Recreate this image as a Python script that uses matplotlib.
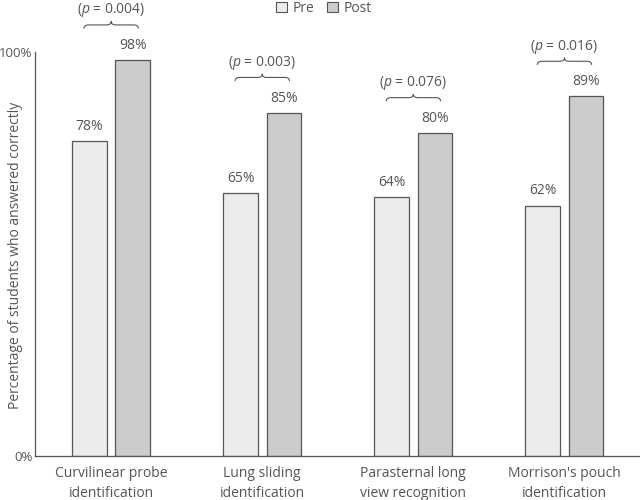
import matplotlib.pyplot as plt
from matplotlib.path import Path
from matplotlib.patches import PathPatch, Patch
import numpy as np

plt.rcParams['font.family'] = ['Open Sans', 'DejaVu Sans']
plt.rcParams['mathtext.fontset'] = 'custom'
plt.rcParams['mathtext.it'] = 'Open Sans:italic'
plt.rcParams['mathtext.rm'] = 'Open Sans'

categories = ["Curvilinear probe\nidentification", "Lung sliding\nidentification",
              "Parasternal long\nview recognition", "Morrison's pouch\nidentification"]
pre = [78, 65, 64, 62]
post = [98, 85, 80, 89]
p_values = ["0.004", "0.003", "0.076", "0.016"]

txt = '#555555'
edge = '#555555'

fig = plt.figure(figsize=(6.4, 5.0), dpi=100)
ax = fig.add_axes([0.055, 0.088, 0.945, 0.808])

x = np.arange(len(categories))
w = 0.23
off = 0.143
ax.bar(x - off, pre, w, color='#ececec', edgecolor=edge, linewidth=0.9)
ax.bar(x + off, post, w, color='#cccccc', edgecolor=edge, linewidth=0.9)

for i in range(len(categories)):
    ax.text(x[i] - off, pre[i] + 3.6, f"{pre[i]}%", ha='center', va='center',
            fontsize=10, color=txt)
    ax.text(x[i] + off, post[i] + 3.6, f"{post[i]}%", ha='center', va='center',
            fontsize=10, color=txt)

    # curly brace above the pair
    yb = post[i] + 8.7
    x0, x1 = x[i] - 0.18, x[i] + 0.18
    xm = x[i]
    d = 0.03
    h = 0.9
    verts = [(x0, yb - h), (x0, yb), (x0 + d, yb),
             (xm - d, yb), (xm, yb), (xm, yb + h),
             (xm, yb), (xm + d, yb),
             (x1 - d, yb), (x1, yb), (x1, yb - h)]
    codes = [Path.MOVETO, Path.CURVE3, Path.CURVE3,
             Path.LINETO, Path.CURVE3, Path.CURVE3,
             Path.CURVE3, Path.CURVE3,
             Path.LINETO, Path.CURVE3, Path.CURVE3]
    ax.add_patch(PathPatch(Path(verts, codes), facecolor='none', edgecolor=txt,
                           linewidth=0.8, clip_on=False))
    ax.text(xm, yb + 3.6, "($\\mathit{p}$ = " + p_values[i] + ")", ha='center',
            va='center', fontsize=10, color=txt, clip_on=False)

ax.set_xlim(-0.503, 3.5)
ax.set_ylim(0, 100)
ax.set_xticks(x)
ax.set_xticklabels(categories, fontsize=10, color=txt, linespacing=1.5)
ax.set_yticks([0, 100])
ax.set_yticklabels(['0%', '100%'], fontsize=9.5, color=txt)
ax.tick_params(length=0, pad=2)
ax.tick_params(axis='x', pad=7)
fig.text(0.024, 0.49, "Percentage of students who answered correctly", fontsize=10,
         color=txt, rotation=90, ha='center', va='center')
for s in ['top', 'right']:
    ax.spines[s].set_visible(False)
for s in ['left', 'bottom']:
    ax.spines[s].set_color(edge)
    ax.spines[s].set_linewidth(0.9)

handles = [Patch(facecolor='#ececec', edgecolor=edge, linewidth=0.8, label='Pre'),
           Patch(facecolor='#cccccc', edgecolor=edge, linewidth=0.8, label='Post')]
fig.legend(handles=handles, loc='center', bbox_to_anchor=(0.506, 0.983), ncol=2,
           frameon=False, fontsize=10, handlelength=0.8, handleheight=0.8,
           handletextpad=0.4, columnspacing=0.9, labelcolor=txt)

fig.savefig('out.png', dpi=100)
